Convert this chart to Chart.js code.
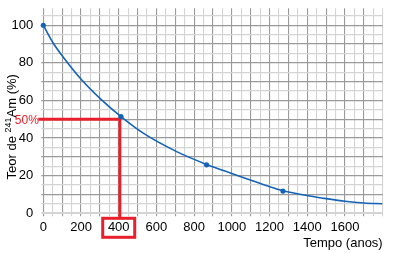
<!DOCTYPE html>
<html>
<head>
<meta charset="utf-8">
<script src="https://cdn.jsdelivr.net/npm/chart.js@4/dist/chart.umd.min.js"></script>
<style>
  html, body { margin: 0; padding: 0; background: #fff; }
  #wrap { width: 395px; height: 253px; }
</style>
</head>
<body>
<div id="wrap"><canvas id="decayChart"></canvas></div>
<script>
// values
const curveYears = [0, 53, 106, 203, 309, 412, 530, 707, 866, 1007, 1113, 1201, 1271, 1413, 1500, 1600, 1700, 1798];
const curveValues = [100, 90.4, 83, 71, 60.3, 51.4, 42.6, 32.8, 26, 20.9, 17.2, 14.1, 12, 9.2, 7.8, 6.4, 5.5, 5.1];

const markYears = [0, 412, 866, 1271];
const markValues = [100, 51.4, 25.8, 11.8];

const halfYear = 406;
const halfValue = 50;
const halfLabel = '50%';
const boxedTick = 400;

const xTitle = 'Tempo (anos)';
const yTitleParts = ['Teor de ', '241', 'Am (%)'];
const yTopGrid = 105;

const blue = '#1463b8';
const red = '#e8202c';
const gridDark = '#9a9a9a';
const gridLight = '#d4d4d4';
const fontFamily = "'Liberation Sans', Arial, sans-serif";

function toPoints(xs, ys) {
  return xs.map((x, i) => ({ x: x, y: ys[i] }));
}

function tickValue(c) {
  const t = c.scale && c.scale.ticks ? c.scale.ticks[c.index] : null;
  return t ? t.value : 0;
}

const markupPlugin = {
  id: 'markup',
  beforeDatasetsDraw(chart) {
    const ctx = chart.ctx;
    const x = chart.scales.x;
    const y = chart.scales.y;
    const px = x.getPixelForValue(halfYear);
    const py = y.getPixelForValue(halfValue);
    const boxTop = y.bottom + 5;
    const boxX = x.getPixelForValue(boxedTick);

    ctx.save();
    ctx.strokeStyle = red;
    ctx.lineWidth = 3;
    ctx.beginPath();
    ctx.moveTo(chart.chartArea.left - 5, py);
    ctx.lineTo(px, py);
    ctx.moveTo(px, py - 1.5);
    ctx.lineTo(px, boxTop);
    ctx.stroke();
    ctx.strokeRect(boxX - 16, boxTop, 32, 19);

    ctx.fillStyle = red;
    ctx.font = '12px ' + fontFamily;
    ctx.textAlign = 'right';
    ctx.textBaseline = 'middle';
    ctx.fillText(halfLabel, chart.chartArea.left - 4.5, py + 1);
    ctx.restore();
  },
  afterDraw(chart) {
    // y title with a real superscript
    const ctx = chart.ctx;
    const y = chart.scales.y;
    const big = '13px ' + fontFamily;
    const small = '9px ' + fontFamily;
    ctx.save();
    ctx.fillStyle = '#000';
    ctx.textBaseline = 'alphabetic';
    ctx.textAlign = 'left';
    ctx.font = big;
    const w0 = ctx.measureText(yTitleParts[0]).width;
    const w2 = ctx.measureText(yTitleParts[2]).width;
    ctx.font = small;
    const w1 = ctx.measureText(yTitleParts[1]).width;
    const total = w0 + w1 + w2;
    const cy = (y.top + y.bottom) / 2 + 16;
    ctx.translate(15.5, cy);
    ctx.rotate(-Math.PI / 2);
    let pos = -total / 2;
    ctx.font = big;
    ctx.fillText(yTitleParts[0], pos, 0);
    pos += w0;
    ctx.font = small;
    ctx.fillText(yTitleParts[1], pos, -5);
    pos += w1;
    ctx.font = big;
    ctx.fillText(yTitleParts[2], pos, 0);
    ctx.restore();
  }
};

new Chart(document.getElementById('decayChart'), {
  type: 'line',
  data: {
    datasets: [
      {
        data: toPoints(curveYears, curveValues),
        borderColor: blue,
        borderWidth: 1.6,
        pointRadius: 0,
        cubicInterpolationMode: 'monotone',
        fill: false
      },
      {
        data: toPoints(markYears, markValues),
        showLine: false,
        clip: false,
        pointRadius: 2.6,
        pointBackgroundColor: blue,
        pointBorderColor: blue,
        pointBorderWidth: 0
      }
    ]
  },
  options: {
    responsive: true,
    maintainAspectRatio: false,
    animation: false,
    events: [],
    layout: { padding: { top: 8.3, right: 12.3, left: 0, bottom: 0 } },
    plugins: {
      legend: { display: false },
      tooltip: { enabled: false }
    },
    scales: {
      x: {
        type: 'linear',
        min: 0,
        max: 1800,
        afterFit: s => {
          s.height = 39.7;
          s.paddingLeft = 0;
          s.paddingRight = 0;
        },
        ticks: {
          stepSize: 50,
          autoSkip: false,
          maxRotation: 0,
          padding: 3,
          color: '#000',
          font: { family: fontFamily, size: 13 },
          callback: v => (v % 200 === 0 && v < 1800) ? String(v) : ''
        },
        grid: {
          tickLength: 3,
          lineWidth: 1.1,
          color: c => {
            const v = tickValue(c);
            return (v % 100 === 0 && v < 1800) ? gridDark : gridLight;
          }
        },
        border: { display: false },
        title: {
          display: true,
          text: xTitle,
          align: 'end',
          color: '#000',
          font: { family: fontFamily, size: 13 },
          padding: { top: 0, bottom: 2 }
        }
      },
      y: {
        type: 'linear',
        min: 0,
        max: 109,
        afterBuildTicks: s => {
          // keep the 105 grid line, drop the extra one at the top edge
          s.ticks = s.ticks.filter(t => t.value <= yTopGrid);
          if (s.ticks[s.ticks.length - 1].value !== yTopGrid) s.ticks.push({ value: yTopGrid });
        },
        afterFit: s => {
          s.width = 43.3;
          s.paddingTop = 0;
          s.paddingBottom = 0;
        },
        ticks: {
          stepSize: 5,
          autoSkip: false,
          padding: 8,
          color: '#000',
          font: { family: fontFamily, size: 13 },
          callback: v => (v % 20 === 0 && v <= 100) ? String(v) : ''
        },
        grid: {
          tickLength: 2,
          color: c => {
            const v = tickValue(c);
            if (v === 0) return '#d4d4d4';
            return v % 10 === 0 ? gridDark : gridLight;
          },
          lineWidth: c => tickValue(c) === 0 ? 2 : 1.2
        },
        border: { display: false }
      }
    }
  },
  plugins: [markupPlugin]
});
</script>
</body>
</html>
